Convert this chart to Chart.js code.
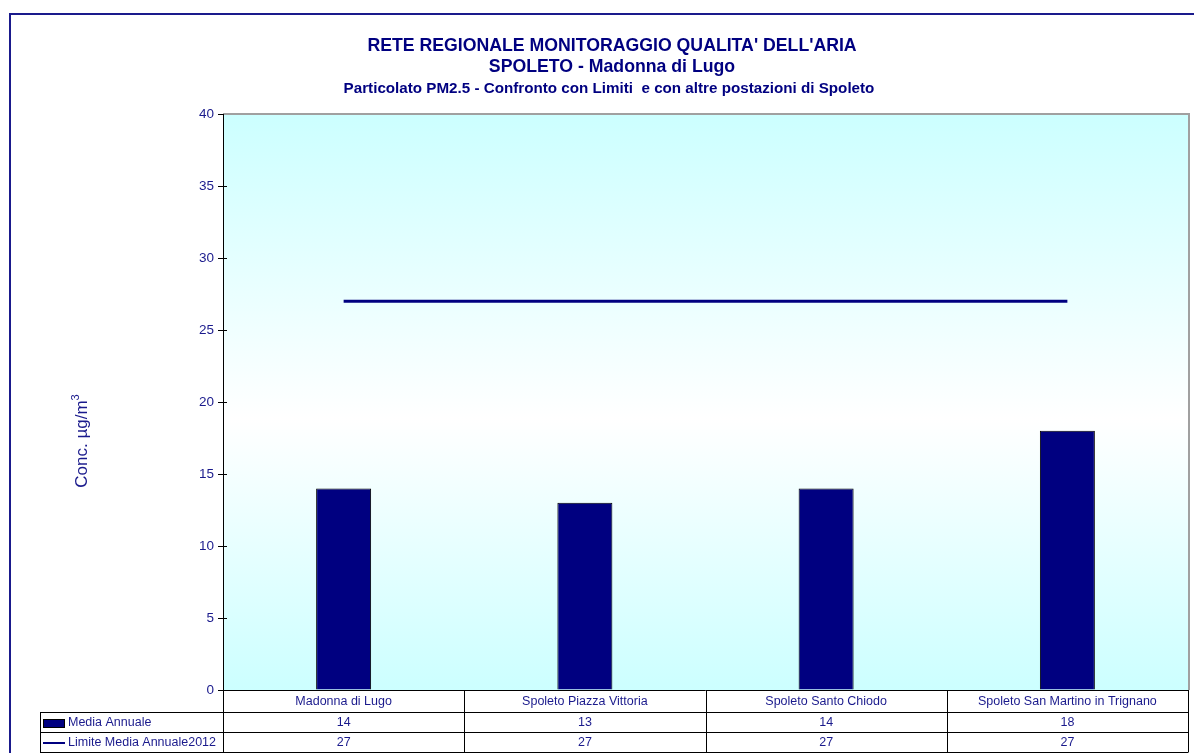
<!DOCTYPE html>
<html>
<head>
<meta charset="utf-8">
<script src="https://cdn.jsdelivr.net/npm/chart.js@4"></script>
<style>
html,body{margin:0;padding:0;background:#fff;}
#wrap{width:1194px;height:753px;position:relative;}
</style>
</head>
<body>
<div id="wrap"><canvas id="c" width="1194" height="753"></canvas></div>
<script>
const categories = ["Madonna di Lugo", "Spoleto Piazza Vittoria", "Spoleto Santo Chiodo", "Spoleto San Martino in Trignano"];
const mediaAnnuale = [14, 13, 14, 18];
const limiteMedia = [27, 27, 27, 27];
const seriesNames = ["Media Annuale", "Limite Media Annuale2012"];
const yTicks = [0, 5, 10, 15, 20, 25, 30, 35, 40];
const titleLines = ["RETE REGIONALE MONITORAGGIO QUALITA' DELL'ARIA", "SPOLETO - Madonna di Lugo", "Particolato PM2.5 - Confronto con Limiti  e con altre postazioni di Spoleto"];
const yTitle = "Conc. µg/m";

const NAVY = "#000080";
const TXT = "#1a1a8c";
const FONT = "'Liberation Sans', Arial, sans-serif";

const deco = {
  id: 'deco',
  beforeDraw(chart) {
    const {ctx, chartArea: a} = chart;
    ctx.save();
    // outer border
    ctx.strokeStyle = "#1a1a8c";
    ctx.lineWidth = 2;
    ctx.beginPath();
    ctx.moveTo(10, 753); ctx.lineTo(10, 14); ctx.lineTo(1194, 14);
    ctx.stroke();
    // plot gradient
    const g = ctx.createLinearGradient(0, a.top, 0, a.bottom);
    g.addColorStop(0, "#ccffff");
    g.addColorStop(0.53, "#ffffff");
    g.addColorStop(1, "#ccffff");
    ctx.fillStyle = g;
    ctx.fillRect(a.left, a.top, a.right - a.left, a.bottom - a.top);
    // frame top/right gray
    ctx.strokeStyle = "#a0a0a0";
    ctx.lineWidth = 2;
    ctx.beginPath();
    ctx.moveTo(a.left, a.top); ctx.lineTo(a.right + 1, a.top); ctx.lineTo(a.right + 1, a.bottom);
    ctx.stroke();
    // titles
    ctx.fillStyle = NAVY;
    ctx.textAlign = "center";
    ctx.textBaseline = "middle";
    ctx.font = "bold 17.7px " + FONT;
    ctx.fillText(titleLines[0], 612, 46.5);
    ctx.fillText(titleLines[1], 612, 67);
    ctx.font = "bold 15.2px " + FONT;
    ctx.fillText(titleLines[2], 609, 89);
    // y title
    ctx.save();
    ctx.translate(87, 441);
    ctx.rotate(-Math.PI / 2);
    ctx.fillStyle = TXT;
    ctx.textBaseline = "alphabetic";
    ctx.font = "17px " + FONT;
    const w = ctx.measureText(yTitle).width;
    ctx.font = "11px " + FONT;
    const w3 = ctx.measureText("3").width;
    const start = -(w + w3) / 2;
    ctx.textAlign = "left";
    ctx.font = "17px " + FONT;
    ctx.fillText(yTitle, start, 0);
    ctx.font = "11px " + FONT;
    ctx.fillText("3", start + w, -8);
    ctx.restore();
    ctx.restore();
  },
  afterDatasetsDraw(chart) {
    // inward tick marks (cross style)
    const {ctx, chartArea: a} = chart;
    const ys = chart.scales.y;
    ctx.save();
    ctx.strokeStyle = "#000";
    ctx.lineWidth = 1;
    ctx.beginPath();
    yTicks.forEach(v => {
      const y = Math.round(ys.getPixelForValue(v)) + 0.5;
      if (v === 0 || v === 40) return;
      ctx.moveTo(a.left, y); ctx.lineTo(a.left + 4, y);
    });
    ctx.stroke();
    ctx.restore();
  },
  afterDraw(chart) {
    const {ctx, chartArea: a} = chart;
    const xs = chart.scales.x;
    const n = categories.length;
    const cw = (a.right - a.left) / n;
    const bounds = [];
    for (let i = 0; i <= n; i++) bounds.push(Math.round(a.left + i * cw));
    const rTop = Math.round(a.bottom), r1 = rTop + 22, r2 = r1 + 20, r3 = r2 + 20;
    const leftX = 40;
    ctx.save();
    ctx.strokeStyle = "#000";
    ctx.lineWidth = 1;
    ctx.beginPath();
    ctx.moveTo(a.left, rTop + 0.5); ctx.lineTo(bounds[n], rTop + 0.5);
    [r1, r2, r3].forEach(y => { ctx.moveTo(leftX, y + 0.5); ctx.lineTo(bounds[n], y + 0.5); });
    ctx.moveTo(leftX + 0.5, r1); ctx.lineTo(leftX + 0.5, r3 + 0.5);
    bounds.forEach(x => { ctx.moveTo(x + 0.5, rTop); ctx.lineTo(x + 0.5, r3 + 0.5); });
    ctx.stroke();
    ctx.font = "12.5px " + FONT;
    ctx.fillStyle = TXT;
    ctx.textAlign = "center";
    ctx.textBaseline = "middle";
    for (let i = 0; i < n; i++) {
      const cx = xs.getPixelForValue(i);
      ctx.fillText(categories[i], cx, (rTop + r1) / 2 + 1);
      ctx.fillText(String(mediaAnnuale[i]), cx, (r1 + r2) / 2 + 1);
      ctx.fillText(String(limiteMedia[i]), cx, (r2 + r3) / 2 + 1);
    }
    // legend keys
    ctx.fillStyle = NAVY;
    ctx.fillRect(43, r1 + 7, 22, 9);
    ctx.strokeStyle = "#000";
    ctx.strokeRect(43.5, r1 + 7.5, 21, 8);
    ctx.strokeStyle = NAVY;
    ctx.lineWidth = 2;
    ctx.beginPath();
    ctx.moveTo(43, (r2 + r3) / 2 + 1); ctx.lineTo(65, (r2 + r3) / 2 + 1);
    ctx.stroke();
    ctx.fillStyle = TXT;
    ctx.textAlign = "left";
    ctx.fillText(seriesNames[0], 68, (r1 + r2) / 2 + 1);
    ctx.fillText(seriesNames[1], 68, (r2 + r3) / 2 + 1);
    ctx.restore();
  }
};

new Chart(document.getElementById('c'), {
  data: {
    labels: categories,
    datasets: [
      {
        type: 'line',
        label: seriesNames[1],
        data: limiteMedia,
        borderColor: NAVY,
        borderWidth: 3,
        pointRadius: 0,
        fill: false,
        order: 1
      },
      {
        type: 'bar',
        label: seriesNames[0],
        data: mediaAnnuale,
        backgroundColor: NAVY,
        borderColor: "#000",
        borderWidth: 1,
        barPercentage: 0.228,
        categoryPercentage: 1,
        order: 2
      }
    ]
  },
  options: {
    responsive: false,
    devicePixelRatio: 1,
    animation: false,
    layout: { padding: { left: 0, right: 6, top: 114, bottom: 63 } },
    plugins: { legend: { display: false }, title: { display: false }, tooltip: { enabled: false } },
    scales: {
      x: { display: false, offset: true },
      y: {
        min: 0, max: 40,
        afterFit(s) { s.width = 223; },
        afterBuildTicks(s) { s.ticks = yTicks.map(v => ({ value: v })); },
        ticks: { color: TXT, font: { family: FONT, size: 13.5 }, padding: 4 },
        grid: { drawOnChartArea: false, drawTicks: true, tickLength: 5, color: "#000", tickColor: "#000" },
        border: { display: true, color: "#000", width: 1 }
      }
    }
  },
  plugins: [deco]
});
</script>
</body>
</html>
